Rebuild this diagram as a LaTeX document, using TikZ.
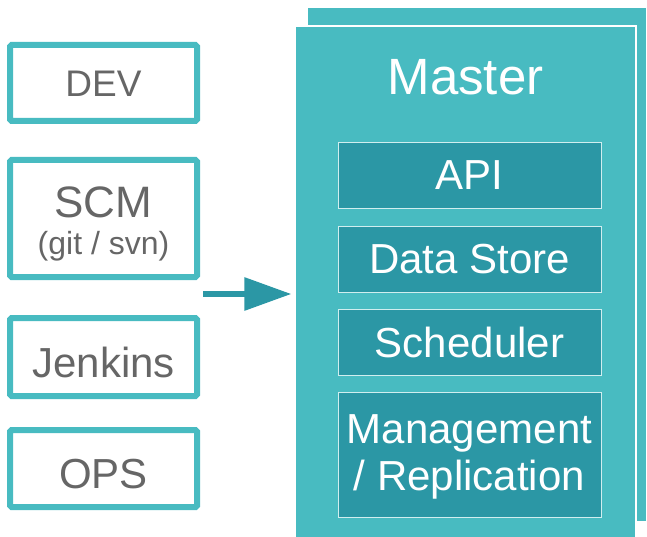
\documentclass[tikz,border=0pt]{standalone}
\usepackage{fontspec}
\setmainfont{Liberation Sans}
\usetikzlibrary{arrows.meta}
\definecolor{tealA}{HTML}{48BBC1}
\definecolor{tealB}{HTML}{2B97A5}
\definecolor{grayT}{HTML}{666666}
\tikzset{
  sidebox/.style={draw=tealA, line width=6pt, rounded corners=1.5pt, fill=white, inner sep=0pt},
  sidetext/.style={text=grayT, anchor=base, inner sep=0pt},
  masterbox/.style={fill=tealA, draw=white, line width=1.2pt, inner sep=0pt},
  innerbox/.style={fill=tealB, draw=white!75!tealA, line width=0.9pt, inner sep=0pt,
    minimum width=263pt},
  innertext/.style={text=white, anchor=base, inner sep=0pt, font=\fontsize{42}{47}\selectfont},
  flow/.style={draw=tealB, line width=6pt, shorten >=3pt,
    -{Triangle[length=47pt 0, width=32pt 0]}}
}
\begin{document}
\begin{tikzpicture}[x=1pt, y=-1pt]
\useasboundingbox (0,0) rectangle (647,537);

% stacked master panels
\node[masterbox, minimum width=340pt, minimum height=515pt] (masterback) at (477,264.5) {};
\node[masterbox, minimum width=341pt, minimum height=513pt] (master) at (465.5,282.5) {};
\node[text=white, anchor=base, inner sep=0pt, font=\fontsize{51}{60}\selectfont] (mastertitle) at (465.5,95) {Master};

% components inside the master
\node[innerbox, minimum height=66pt] (api) at (469.5,175) {};
\node[innertext] (apit) at (469.5,190) {API};
\node[innerbox, minimum height=66pt] (store) at (469.5,259) {};
\node[innertext] (storet) at (469.5,273) {Data Store};
\node[innerbox, minimum height=66pt] (sched) at (469.5,342) {};
\node[innertext] (schedt) at (469.5,357) {Scheduler};
\node[innerbox, minimum height=125pt] (mgmt) at (469.5,454.5) {};
\node[innertext] (mgmtt1) at (469.5,443) {Management};
\node[innertext] (mgmtt2) at (469.5,490) {/ Replication};

% actors on the left
\node[sidebox, minimum width=187pt, minimum height=76pt] (dev) at (103.5,83) {};
\node[sidetext, font=\fontsize{37}{40}\selectfont] (devt) at (103.5,97) {DEV};
\node[sidebox, minimum width=187pt, minimum height=117pt] (scm) at (103.5,218.5) {};
\node[sidetext, font=\fontsize{44}{48}\selectfont] (scmt) at (103.5,218) {SCM};
\node[sidetext, font=\fontsize{32}{36}\selectfont] (scmsub) at (103.5,254) {(git / svn)};
\node[sidebox, minimum width=187pt, minimum height=78pt] (jenkins) at (103.5,357) {};
\node[sidetext, font=\fontsize{42}{46}\selectfont] (jenkinst) at (103.5,377) {Jenkins};
\node[sidebox, minimum width=187pt, minimum height=77pt] (ops) at (103.5,468.5) {};
\node[sidetext, font=\fontsize{42}{46}\selectfont] (opst) at (103.5,488) {OPS};

% flow arrow into the master
\coordinate (flowstart) at (203,294);
\draw[flow] (flowstart) -- (master.west |- flowstart);
\end{tikzpicture}
\end{document}
